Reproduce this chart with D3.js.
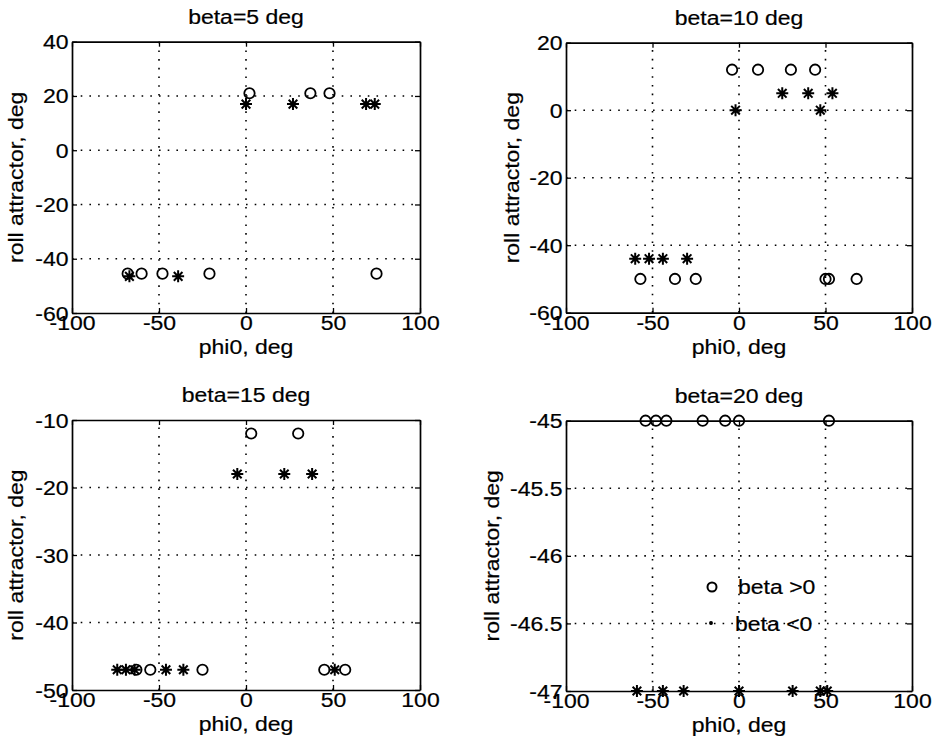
<!DOCTYPE html>
<html>
<head>
<meta charset="utf-8">
<script src="https://cdn.jsdelivr.net/npm/d3@7"></script>
<style>
  body { margin: 0; background: #fff; }
  text { font-family: "Liberation Sans", Arial, Helvetica, sans-serif; fill: #000; stroke: #000; stroke-width: 0.2px; }
</style>
</head>
<body>
<svg id="chart" width="934" height="750"></svg>
<script>
// ---- data: roll attractor vs initial roll angle phi0 ----
const xTicks = [-100, -50, 0, 50, 100];

// beta = 5 deg
const b5PosX = [-68, -60, -48, -21, 2, 37, 48, 75];
const b5PosY = [-45.5, -45.5, -45.5, -45.5, 21, 21, 21, -45.5];
const b5NegX = [-67, -39, 0, 27, 69, 74];
const b5NegY = [-46.5, -46.5, 17, 17, 17, 17];
const b5YTicks = [-60, -40, -20, 0, 20, 40];

// beta = 10 deg
const b10PosX = [-57, -37, -25, -4, 11, 30, 44, 50, 52, 68];
const b10PosY = [-50, -50, -50, 12, 12, 12, 12, -50, -50, -50];
const b10NegX = [-60, -52, -44, -30, -2, 25, 40, 47, 54];
const b10NegY = [-44, -44, -44, -44, 0, 5, 5, 0, 5];
const b10YTicks = [-60, -40, -20, 0, 20];

// beta = 15 deg
const b15PosX = [-63, -55, -25, 3, 30, 45, 57];
const b15PosY = [-47, -47, -47, -12, -12, -47, -47];
const b15NegX = [-74, -69, -64, -46, -36, -5, 22, 38, 51];
const b15NegY = [-47, -47, -47, -47, -47, -18, -18, -18, -47];
const b15YTicks = [-50, -40, -30, -20, -10];

// beta = 20 deg
const b20PosX = [-54, -48, -42, -21, -8, 0, 52];
const b20PosY = [-45, -45, -45, -45, -45, -45, -45];
const b20NegX = [-59, -44, -32, 0, 31, 47, 51];
const b20NegY = [-47, -47, -47, -47, -47, -47, -47];
const b20YTicks = [-47, -46.5, -46, -45.5, -45];

const legendLabels = ["beta >0", "beta <0"];

// ---- layout ----
const FS = 19.5;    // font size
const SX = 1.18;    // horizontal glyph stretch
const zip = (xs, ys) => xs.map((x, i) => ({ x, y: ys[i] }));

const panels = [
  { title: "beta=5 deg",  yTicks: b5YTicks,  pos: zip(b5PosX, b5PosY),   neg: zip(b5NegX, b5NegY),
    box: { l: 72,  r: 420, t: 41.7, b: 313 }, ylabX: 23 },
  { title: "beta=10 deg", yTicks: b10YTicks, pos: zip(b10PosX, b10PosY), neg: zip(b10NegX, b10NegY),
    box: { l: 566, r: 912, t: 42.7, b: 312.7 }, ylabX: 519 },
  { title: "beta=15 deg", yTicks: b15YTicks, pos: zip(b15PosX, b15PosY), neg: zip(b15NegX, b15NegY),
    box: { l: 72,  r: 420, t: 420, b: 690 }, ylabX: 23 },
  { title: "beta=20 deg", yTicks: b20YTicks, pos: zip(b20PosX, b20PosY), neg: zip(b20NegX, b20NegY),
    box: { l: 566, r: 912, t: 420.7, b: 691 }, ylabX: 499, legend: true }
];

const svg = d3.select("#chart");

function label(g, x, y, str, anchor, rotate) {
  const tr = `translate(${x},${y})` + (rotate ? ` rotate(${rotate})` : "") + ` scale(${SX},1)`;
  return g.append("text")
    .attr("transform", tr)
    .attr("text-anchor", anchor)
    .attr("font-size", FS)
    .text(str);
}

// asterisk marker: plus overlaid with a cross
function asterisk(r) {
  const d = r * 0.72;
  return `M${-r},0H${r}M0,${-r}V${r}M${-d},${-d}L${d},${d}M${-d},${d}L${d},${-d}`;
}

panels.forEach(p => {
  const { l, r, t, b } = p.box;
  const yDom = d3.extent(p.yTicks);
  const x = d3.scaleLinear().domain([-100, 100]).range([l, r]);
  const y = d3.scaleLinear().domain(yDom).range([b, t]);
  const g = svg.append("g");

  // dotted grid
  const grid = g.append("g")
    .attr("stroke", "#000").attr("stroke-width", 1.6)
    .attr("stroke-dasharray", "1.6,7.1");
  grid.selectAll("line.gx").data(xTicks.slice(1, -1)).join("line")
    .attr("x1", d => x(d)).attr("x2", d => x(d))
    .attr("y1", b).attr("y2", t);
  grid.selectAll("line.gy").data(p.yTicks.slice(1, -1)).join("line")
    .attr("x1", l).attr("x2", r)
    .attr("y1", d => y(d)).attr("y2", d => y(d));

  // axes with inward ticks on all four sides
  const styleAxis = sel => {
    sel.select(".domain").attr("stroke-width", 1.7);
    sel.selectAll(".tick line").attr("stroke-width", 1.3);
  };
  const fmt = d => String(d).replace("\u2212", "-");
  const bottom = g.append("g").attr("transform", `translate(0,${b})`)
    .call(d3.axisBottom(x).tickValues(xTicks).tickSize(-5).tickSizeOuter(0).tickPadding(10).tickFormat(fmt))
    .call(styleAxis);
  bottom.selectAll("text").attr("font-size", FS).attr("font-family", null)
    .attr("transform", `scale(${SX},1)`).attr("dy", "0.71em").attr("y", 3);
  g.append("g").attr("transform", `translate(0,${t})`)
    .call(d3.axisTop(x).tickValues(xTicks).tickSize(-5).tickSizeOuter(0).tickFormat(""))
    .call(styleAxis);
  const left = g.append("g").attr("transform", `translate(${l},0)`)
    .call(d3.axisLeft(y).tickValues(p.yTicks).tickSize(-5).tickSizeOuter(0).tickPadding(3).tickFormat(fmt))
    .call(styleAxis);
  left.selectAll("text").attr("font-size", FS).attr("font-family", null)
    .attr("transform", `scale(${SX},1)`).attr("x", -3).attr("dy", "0.36em");
  g.append("g").attr("transform", `translate(${r},0)`)
    .call(d3.axisRight(y).tickValues(p.yTicks).tickSize(-5).tickSizeOuter(0).tickFormat(""))
    .call(styleAxis);

  // titles and axis labels
  label(g, (l + r) / 2, t - 18, p.title, "middle");
  label(g, (l + r) / 2, b + 41, "phi0, deg", "middle");
  label(g, p.ylabX, (t + b) / 2, "roll attractor, deg", "middle", -90);

  // markers: beta > 0 as circles, beta < 0 as asterisks
  g.append("g").selectAll("circle").data(p.pos).join("circle")
    .attr("cx", d => x(d.x)).attr("cy", d => y(d.y)).attr("r", 5.2)
    .attr("fill", "none").attr("stroke", "#000").attr("stroke-width", 1.8);
  g.append("g").selectAll("path").data(p.neg).join("path")
    .attr("transform", d => `translate(${x(d.x)},${y(d.y)})`)
    .attr("d", asterisk(6))
    .attr("fill", "none").attr("stroke", "#000").attr("stroke-width", 2);

  if (p.legend) {
    const lg = g.append("g");
    lg.append("circle").attr("cx", 712).attr("cy", 587).attr("r", 4.5)
      .attr("fill", "none").attr("stroke", "#000").attr("stroke-width", 2);
    label(lg, 738, 594, legendLabels[0], "start");
    lg.append("path").attr("transform", "translate(711,623)").attr("d", asterisk(2))
      .attr("fill", "none").attr("stroke", "#000").attr("stroke-width", 1.2);
    label(lg, 735, 631, legendLabels[1], "start");
  }
});
</script>
</body>
</html>
